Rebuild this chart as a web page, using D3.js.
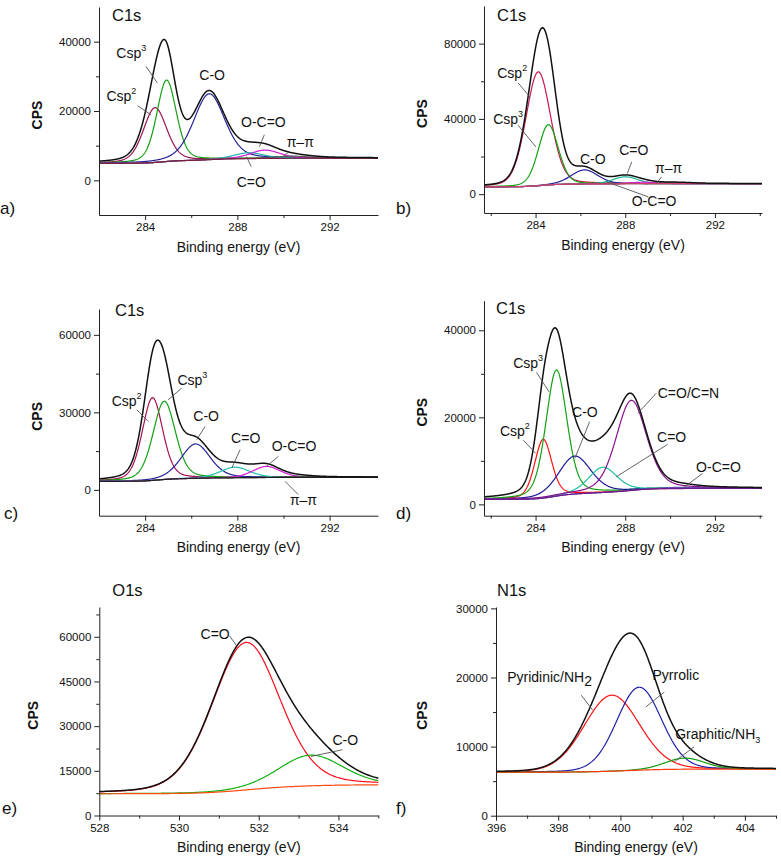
<!DOCTYPE html>
<html><head><meta charset="utf-8">
<script src="https://cdn.jsdelivr.net/npm/d3@7"></script>
<style>
body{margin:0;background:#fff}
svg{display:block}
text{font-family:Arial,"Liberation Sans",Helvetica,sans-serif;fill:#111}
</style>
</head><body>
<svg id="chart" width="781" height="860"></svg>
<script>
// ================= DATA =================
// Components: centre (eV), height above background (CPS), FWHM (eV)
// ---- a) C1s ----
const aNames   = ["Csp2","Csp3","C-O","C=O","O-C=O","pi-pi"];
const aCenters = [284.43, 284.93, 286.78, 288.5, 289.2, 290.4];
const aHeights = [15800, 23500, 19000, 1700, 2400, 600];
const aFwhm    = [1.2, 1.0, 1.6, 1.5, 1.5, 1.8];
const aBackground = [4900, 6400];
const aXTicks = [284, 288, 292], aXMinor = [286, 290];
const aYTicks = [0, 20000, 40000], aYMinor = [10000, 30000];
// ---- b) C1s ----
const bNames   = ["Csp2","Csp3","C-O","C=O","O-C=O","pi-pi"];
const bCenters = [284.12, 284.57, 286.18, 288.0, 288.8, 290.3];
const bHeights = [60500, 32000, 7500, 3700, 800, 500];
const bFwhm    = [1.3, 1.05, 1.4, 1.3, 1.3, 1.6];
const bBackground = [3900, 5600];
const bXTicks = [284, 288, 292], bXMinor = [282, 286, 290, 294];
const bYTicks = [0, 40000, 80000], bYMinor = [20000, 60000];
// ---- c) C1s ----
const cNames   = ["Csp2","Csp3","C-O","C=O","O-C=O","pi-pi"];
const cCenters = [284.32, 284.83, 286.19, 287.9, 289.26, 290.6];
const cHeights = [32000, 30300, 13300, 4100, 4300, 400];
const cFwhm    = [1.05, 1.15, 1.5, 1.5, 1.4, 1.5];
const cBackground = [3300, 4850];
const cXTicks = [284, 288, 292], cXMinor = [286, 290];
const cYTicks = [0, 30000, 60000], cYMinor = [15000, 45000];
// ---- d) C1s ----
const dNames   = ["Csp2","Csp3","C-O","C=O","C=O/C=N","O-C=O"];
const dCenters = [284.34, 284.93, 285.75, 287.0, 288.27, 290.5];
const dHeights = [13500, 29000, 8700, 5800, 20700, 300];
const dFwhm    = [0.9, 1.1, 1.7, 1.5, 1.6, 1.5];
const dBackground = [1150, 3680];
const dXTicks = [284, 288, 292], dXMinor = [282, 286, 290, 294];
const dYTicks = [0, 20000, 40000], dYMinor = [10000, 30000];
// ---- e) O1s ----
const eNames   = ["C=O","C-O"];
const eCenters = [531.68, 533.3];
const eHeights = [49500, 10300];
const eFwhm    = [2.0, 1.9];
const eBackground = [7300, 10300];
const eXTicks = [528, 530, 532, 534], eXMinor = [529, 531, 533, 535];
const eYTicks = [0, 15000, 30000, 45000, 60000], eYMinor = [7500, 22500, 37500, 52500, 67500];
// ---- f) N1s ----
const fNames   = ["Pyridinic/NH2","Pyrrolic","Graphitic/NH3"];
const fCenters = [399.72, 400.6, 402.07];
const fHeights = [11000, 12000, 1600];
const fFwhm    = [2.1, 1.7, 1.5];
const fBackground = [6300, 6750];
const fXTicks = [396, 398, 400, 402, 404], fXMinor = [397, 399, 401, 403, 405];
const fYTicks = [0, 10000, 20000, 30000], fYMinor = [5000, 15000, 25000];

// Annotations: [text, textE, textCPS, lineFromE, lineFromCPS, lineToE, lineToCPS]
const aNotes = [
  ["Csp^3", 282.75, 35360, 284.03, 32930, 284.53, 28120],
  ["Csp^2", 282.32, 22780, 283.67, 21540, 284.25, 18930],
  ["C-O", 286.35, 29070],
  ["O-C=O", 288.16, 15360, 289.17, 13130, 288.96, 9740],
  ["π–π", 290.14, 9740, 290.26, 8290, 289.97, 6840],
  ["C=O", 287.97, -1860, 288.6, 3940, 288.4, 6840]
];
const bNotes = [
  ["Csp^2", 282.29, 61990, 283.22, 59130, 283.75, 51690],
  ["Csp^3", 282.11, 37550, 283.22, 36650, 284.01, 25130],
  ["C-O", 285.98, 15940],
  ["C=O", 287.73, 20720, 288.29, 17160, 288.09, 11000],
  ["π–π", 289.33, 11000, 289.62, 9190, 289.4, 5680],
  ["O-C=O", 288.29, -6370, 289.03, -1430, 287.17, 6530]
];
const cNotes = [
  ["Csp^2", 282.55, 32280, 283.64, 31000, 284.14, 26490],
  ["Csp^3", 285.4, 40660, 285.59, 39380, 285.0, 34860],
  ["C-O", 286.09, 26490, 286.6, 24560, 286.24, 19420],
  ["C=O", 287.73, 18150, 288.12, 15560, 287.76, 8490],
  ["O-C=O", 289.49, 14930, 289.78, 12970, 289.27, 9120],
  ["π–π", 290.28, -5680, 290.64, -1810, 290.07, 3280]
];
const dNotes = [
  ["Csp^3", 283.0, 31260, 284.04, 30340, 284.6, 25880],
  ["Csp^2", 282.41, 15770, 283.45, 14780, 284.01, 11720],
  ["C-O", 285.63, 20140, 286.41, 18990, 285.75, 10570],
  ["C=O/C=N", 289.45, 24370, 289.38, 25520, 288.56, 20920],
  ["C=O", 289.42, 14390, 289.89, 13790, 287.6, 6340],
  ["O-C=O", 291.16, 7490, 291.45, 7130, 290.56, 3680]
];
const eNotes = [
  ["C=O", 530.54, 59150, 531.27, 60270, 531.45, 56900],
  ["C-O", 533.85, 23760, 534.1, 22080, 533.31, 19820]
];
const fNotes = [
  ["Pyridinic/NH~2", 396.36, 19370, 398.74, 17440, 399.11, 15270],
  ["Pyrrolic", 401.03, 19610, 401.41, 17900, 400.82, 15750],
  ["Graphitic/NH_3", 401.76, 11170, 402.37, 9970, 401.73, 7800]
];

// ================= STYLES / LAYOUT =================
const aColors = ["#9a1454","#13a013","#24249a","#1fb4b0","#d21ed2","#5a5a5a"];
const bColors = ["#c8184c","#13a013","#24249a","#1fb49a","#d21ed2","#5a5a5a"];
const cColors = ["#a81050","#13a013","#24249a","#1fc0b0","#d21ed2","#5a5a5a"];
const dColors = ["#ff1010","#13a013","#1a1a9a","#1fc0a0","#8a1090","#7040b0"];
const eColors = ["#ff0a1a","#10b010"];
const fColors = ["#ff1010","#2020a8","#10a010"];

const panels = [
  {letter:"a)", title:"C1s", centers:aCenters, heights:aHeights, fwhm:aFwhm, bg:aBackground, lor:0.3,
   xDom:[282,294.1], yDom:[-10000,50000], xT:aXTicks, xM:aXMinor, yT:aYTicks, yM:aYMinor, notes:aNotes,
   colors:aColors, bgColor:"#7a1e40", box:{x0:99,x1:378,y0:7,y1:215}, titleOff:[13,10], letterPos:[0,210], cpsX:38},
  {letter:"b)", title:"C1s", centers:bCenters, heights:bHeights, fwhm:bFwhm, bg:bBackground, lor:0.2,
   xDom:[281.7,294.1], yDom:[-10000,100000], xT:bXTicks, xM:bXMinor, yT:bYTicks, yM:bYMinor, notes:bNotes,
   colors:bColors, bgColor:"#d0406a", box:{x0:484,x1:762,y0:6,y1:213}, titleOff:[13,11], letterPos:[396,210], cpsX:423},
  {letter:"c)", title:"C1s", centers:cCenters, heights:cHeights, fwhm:cFwhm, bg:cBackground, lor:0.3,
   xDom:[282,294.1], yDom:[-10000,70000], xT:cXTicks, xM:cXMinor, yT:cYTicks, yM:cYMinor, notes:cNotes,
   colors:cColors, bgColor:"#202020", box:{x0:99,x1:378,y0:309,y1:515.7}, titleOff:[16,3], letterPos:[4,515], cpsX:38},
  {letter:"d)", title:"C1s", centers:dCenters, heights:dHeights, fwhm:dFwhm, bg:dBackground, lor:0.3,
   xDom:[281.7,294.1], yDom:[-2600,46800], xT:dXTicks, xM:dXMinor, yT:dYTicks, yM:dYMinor, notes:dNotes,
   colors:dColors, bgColor:"#6a1a8a", box:{x0:484,x1:762,y0:300.7,y1:515.7}, titleOff:[12,9], letterPos:[396,515], cpsX:423},
  {letter:"e)", title:"O1s", centers:eCenters, heights:eHeights, fwhm:eFwhm, bg:eBackground, lor:0.2,
   xDom:[528,535], yDom:[0,70000], xT:eXTicks, xM:eXMinor, yT:eYTicks, yM:eYMinor, notes:eNotes,
   colors:eColors, bgColor:"#ff4a10", box:{x0:99.3,x1:378.3,y0:607,y1:815.5}, titleOff:[13,-15], letterPos:[2,810], cpsX:34},
  {letter:"f)", title:"N1s", centers:fCenters, heights:fHeights, fwhm:fFwhm, bg:fBackground, lor:0.1,
   xDom:[396,405], yDom:[0,30200], xT:fXTicks, xM:fXMinor, yT:fYTicks, yM:fYMinor, notes:fNotes,
   colors:fColors, bgColor:"#ff3a10", box:{x0:496,x1:776,y0:607,y1:815.7}, titleOff:[1,-15], letterPos:[396,810], cpsX:423}
];

const svg = d3.select("#chart");

function pseudoVoigt(E, c, w, h, m){
  const u = (E - c) / w;
  return h * ((1 - m) * Math.exp(-4 * Math.LN2 * u * u) + m / (1 + 4 * u * u));
}

function addRichText(sel, str){
  // ^ = small superscript, _ = small subscript, ~ = large subscript
  const m = str.match(/^(.*?)([\^_~])(.*)$/);
  if(!m){ sel.text(str); return; }
  sel.append("tspan").text(m[1]);
  if(m[2]==="^") sel.append("tspan").attr("font-size",9).attr("dy",-7).text(m[3]);
  else if(m[2]==="_") sel.append("tspan").attr("font-size",9).attr("dy",4).text(m[3]);
  else sel.append("tspan").attr("font-size",14).attr("dy",4).text(m[3]);
}

panels.forEach(p => {
  const b = p.box;
  const g = svg.append("g");
  const x = d3.scaleLinear().domain(p.xDom).range([b.x0, b.x1]);
  const y = d3.scaleLinear().domain(p.yDom).range([b.y1, b.y0]);

  const Es = d3.range(p.xDom[0], p.xDom[1] + 1e-9, 0.02);
  const peaks = p.centers.map((c, i) => Es.map(E => pseudoVoigt(E, c, p.fwhm[i], p.heights[i], p.lor)));
  const total = Es.map((E, j) => d3.sum(peaks, pk => pk[j]));
  // Shirley-type background between the two end levels
  let acc = 0; const cum = total.map(t => (acc += t));
  const bg = cum.map(cv => p.bg[0] + (p.bg[1] - p.bg[0]) * cv / acc);

  const line = d3.line().x(d => x(d[0])).y(d => y(d[1]));

  peaks.forEach((pk, i) => {
    g.append("path").datum(Es.map((E, j) => [E, bg[j] + pk[j]]))
      .attr("d", line).attr("fill", "none").attr("stroke", p.colors[i]).attr("stroke-width", 1.2);
  });
  g.append("path").datum(Es.map((E, j) => [E, bg[j]]))
    .attr("d", line).attr("fill", "none").attr("stroke", p.bgColor).attr("stroke-width", 1.2);
  g.append("path").datum(Es.map((E, j) => [E, bg[j] + total[j]]))
    .attr("d", line).attr("fill", "none").attr("stroke", "#111").attr("stroke-width", 1.5);

  const fmt = d3.format("d");
  const xa = g.append("g").attr("transform", `translate(0,${b.y1})`)
    .call(d3.axisBottom(x).tickValues(p.xT).tickFormat(fmt).tickSize(5).tickSizeOuter(0).tickPadding(3));
  const xm = g.append("g").attr("transform", `translate(0,${b.y1})`)
    .call(d3.axisBottom(x).tickValues(p.xM).tickFormat("").tickSize(3).tickSizeOuter(0));
  const ya = g.append("g").attr("transform", `translate(${b.x0},0)`)
    .call(d3.axisLeft(y).tickValues(p.yT).tickFormat(fmt).tickSize(5).tickSizeOuter(0).tickPadding(3));
  const ym = g.append("g").attr("transform", `translate(${b.x0},0)`)
    .call(d3.axisLeft(y).tickValues(p.yM).tickFormat("").tickSize(3).tickSizeOuter(0));
  [xa, xm, ya, ym].forEach(a => {
    a.attr("font-family", null).attr("font-size", null);
    a.selectAll("path,line").attr("stroke", "#222").attr("stroke-width", 1);
    a.selectAll("text").attr("font-size", 11.5).attr("fill", "#111");
  });
  xm.select("path").remove(); ym.select("path").remove();

  p.notes.forEach(n => {
    if(n.length > 3){
      g.append("line").attr("x1", x(n[3])).attr("y1", y(n[4])).attr("x2", x(n[5])).attr("y2", y(n[6]))
        .attr("stroke", "#555").attr("stroke-width", 0.9);
    }
    const t = g.append("text").attr("x", x(n[1])).attr("y", y(n[2])).attr("font-size", 14);
    addRichText(t, n[0]);
  });

  g.append("text").attr("x", b.x0 + p.titleOff[0]).attr("y", b.y0 + p.titleOff[1])
    .attr("dominant-baseline", "middle").attr("font-size", 16.5).text(p.title);
  g.append("text").attr("x", (b.x0 + b.x1) / 2).attr("y", b.y1 + 33)
    .attr("text-anchor", "middle").attr("dominant-baseline", "middle").attr("font-size", 14).text("Binding energy (eV)");
  g.append("text").attr("transform", `translate(${p.cpsX},${(b.y0 + b.y1) / 2 + 4}) rotate(-90)`)
    .attr("text-anchor", "middle").attr("dominant-baseline", "middle").attr("font-size", 14).attr("font-weight", "bold")
    .text("CPS");
  g.append("text").attr("x", p.letterPos[0]).attr("y", p.letterPos[1])
    .attr("dominant-baseline", "middle").attr("font-size", 17).text(p.letter);
});
</script>
</body></html>
